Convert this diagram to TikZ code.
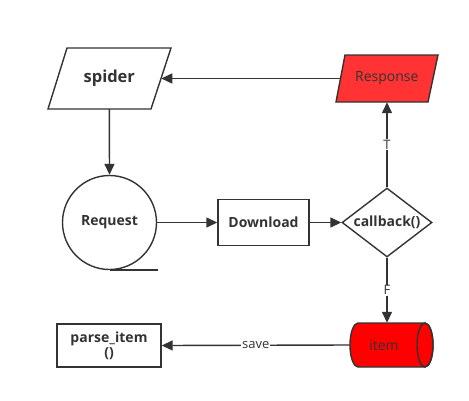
\documentclass[tikz,border=0pt]{standalone}
\usepackage{fontspec}
\setmainfont{Open Sans}
\usetikzlibrary{shapes.geometric,arrows.meta,calc}
\definecolor{ink}{HTML}{333333}
\definecolor{resp}{HTML}{FF3333}
\definecolor{itemred}{HTML}{FF0000}
\tikzset{
  base/.style={draw=ink, line width=1.4pt, text=ink, inner sep=0pt, font=\fontsize{14}{15}\selectfont},
  boldtxt/.style={font=\fontsize{14}{15}\selectfont\bfseries},
  flow/.style={draw=ink, line width=1.4pt, -{Triangle[length=11pt,width=10pt]}},
  lbl/.style={fill=white, text=ink, inner sep=1pt, font=\fontsize{13}{14}\selectfont},
  hidden/.style={inner sep=0pt, text=ink}
}
\begin{document}
\begin{tikzpicture}[x=1pt,y=-1pt]
\useasboundingbox (0,0) rectangle (469,400);
% parallelogram shapes
\draw[base] (67,48) -- (171,48) -- (151,109) -- (48,109) -- cycle;
\draw[base, fill=resp] (345,55) -- (438,55) -- (428,102) -- (336,102) -- cycle;
% cylinder shape
\draw[base, fill=itemred] (358,323) -- (425,323) arc[start angle=-90, end angle=90, x radius=8, y radius=22]
  -- (358,367) arc[start angle=90, end angle=270, x radius=8, y radius=22] -- cycle;
\draw[base] (425,345) ellipse[x radius=8, y radius=22];
% nodes
\node[hidden, minimum width=103.5pt, minimum height=61pt, font=\fontsize{16.5}{18}\selectfont\bfseries] (spider) at (109.3,78.5) {spider};
\node[hidden, minimum width=92.5pt, minimum height=47pt, font=\fontsize{14}{15}\selectfont] (resp) at (386.8,78.5) {Response};
\node[base, circle, minimum size=94pt, boldtxt] (req) at (109.5,222.5) {Request};
\node[base, rectangle, minimum width=91pt, minimum height=46pt, boldtxt] (dl) at (263.5,222.5) {Download};
\node[base, diamond, aspect=1.3, minimum width=90pt, minimum height=69pt, boldtxt] (cb) at (387,222.5) {callback()};
\node[hidden, minimum width=83pt, minimum height=44pt, font=\fontsize{14}{15}\selectfont] (item) at (391.5,345) {\hspace*{-15pt}item};
\node[base, rectangle, minimum width=104pt, minimum height=43pt, boldtxt, align=center] (parse) at (109,345.5) {parse\_item\\()};
% tape line under request
\draw[draw=ink, line width=1.8pt] (req.south) -- ++(48,0) coordinate (tapeend);
% connectors
\draw[flow] (resp.west) -- (spider.east);
\draw[flow] (spider.south) -- (req.north);
\draw[flow] (req.east) -- (dl.west);
\draw[flow] (dl.east) -- (cb.west);
\draw[flow] (cb.north) -- node[lbl] {T} (cb.north |- resp.south);
\draw[flow] (cb.south) -- node[lbl] {F} (cb.south |- item.north);
\draw[flow] (item.west) -- node[lbl] {save} (parse.east);
\end{tikzpicture}
\end{document}
